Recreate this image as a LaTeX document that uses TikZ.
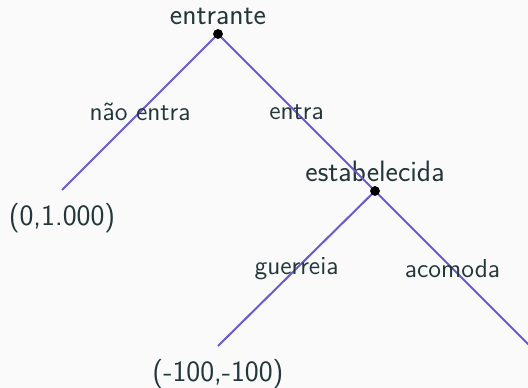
\documentclass[tikz,border=0pt]{standalone}
\usepackage{fontspec}
\usepackage{tikz}
\usetikzlibrary{positioning}
\usepackage{xcolor}
\definecolor{textoescuro}{HTML}{23373B}
\definecolor{ramo}{HTML}{6A5ACD}
\definecolor{fundo}{HTML}{FAFAFA}

\begin{document}
\begin{tikzpicture}[x=0.02cm, y=-0.02cm, font=\sffamily, text=textoescuro]

        % Estilos da árvore do jogo
        \tikzstyle{decisao} = [circle, fill=black, inner sep=0pt, minimum size=0.19cm]
        \tikzstyle{jogador} = [inner sep=0pt, font=\sffamily\fontsize{16.8}{19}\selectfont]
        \tikzstyle{payoff} = [inner sep=0pt, font=\sffamily\fontsize{16.8}{19}\selectfont]
        \tikzstyle{acao} = [midway, inner sep=0pt, font=\sffamily\fontsize{14.8}{17}\selectfont]
        \tikzstyle{galho} = [draw=ramo, line width=0.04cm]

        % Fundo
        \fill[fundo] (0,0) rectangle (528,388);
        \useasboundingbox (0,0) rectangle (528,388);

        % Nó do entrante
        \node[decisao] (d1) at (218,34) {};
        \node[jogador, above=0.08cm of d1] (j1) {entrante};

        % Nó da estabelecida
        \node[decisao] (d2) at (375,191) {};
        \node[jogador, above=0.08cm of d2] (j2) {estabelecida};

        % Pontas dos galhos
        \coordinate (f1) at (62,190);
        \coordinate (f2) at (218,346);
        \coordinate (f3) at (530,346);

        % Payoffs
        \node[payoff, below=0.26cm of f1] (p1) {(0,1.000)};
        \node[payoff, below=0.26cm of f2] (p2) {(-100,-100)};

        % Galhos
        \draw[galho] (d1.center) -- (f1) node[acao] {não entra};
        \draw[galho] (d1.center) -- (d2.center) node[acao] {entra};
        \draw[galho] (d2.center) -- (f2) node[acao] {guerreia};
        \draw[galho] (d2.center) -- (f3) node[acao] {acomoda};

        % Pontos por cima
        \node[decisao] at (d1) {};
        \node[decisao] at (d2) {};

\end{tikzpicture}
\end{document}
